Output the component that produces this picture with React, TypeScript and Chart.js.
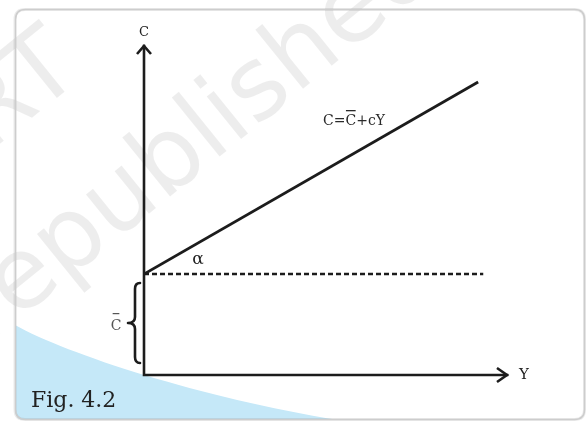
import React, { useEffect, useRef } from "react";
import { Chart, registerables } from "chart.js";

Chart.register(...registerables);

// ---- data (in chart units) ----
const consumptionIncome = [0, 9.18];
const consumptionValues = [3.06, 8.88];
const autonomousIncome = [0, 9.32];
const autonomousValues = [3.06, 3.06];
const axisMin = 0;
const axisMax = 10;

// ---- text ----
const yAxisLabel = "C";
const xAxisLabel = "Y";
const equationParts = ["C=", "C", "+cY"];
const angleLabel = "α";
const interceptLabel = "C";
const figureLabel = "Fig. 4.2";
const watermarkLines = ["© NCERT", "not to be republished"];

const W = 587;
const H = 421;
const SERIF = "'DejaVu Serif', serif";

function roundRectPath(ctx: CanvasRenderingContext2D, x: number, y: number, w: number, h: number, r: number) {
  ctx.beginPath();
  ctx.moveTo(x + r, y);
  ctx.lineTo(x + w - r, y);
  ctx.quadraticCurveTo(x + w, y, x + w, y + r);
  ctx.lineTo(x + w, y + h - r);
  ctx.quadraticCurveTo(x + w, y + h, x + w - r, y + h);
  ctx.lineTo(x + r, y + h);
  ctx.quadraticCurveTo(x, y + h, x, y + h - r);
  ctx.lineTo(x, y + r);
  ctx.quadraticCurveTo(x, y, x + r, y);
  ctx.closePath();
}

const backgroundPlugin = {
  id: "figBackground",
  beforeDraw(chart: any) {
    const ctx: CanvasRenderingContext2D = chart.ctx;
    ctx.save();
    ctx.fillStyle = "#ffffff";
    ctx.fillRect(0, 0, W, H);

    // blue swoosh inside frame
    ctx.save();
    roundRectPath(ctx, 15, 9, 570, 411, 10);
    ctx.clip();
    ctx.beginPath();
    ctx.moveTo(10, 322);
    ctx.bezierCurveTo(60, 352, 200, 398, 345, 421);
    ctx.lineTo(10, 421);
    ctx.closePath();
    ctx.fillStyle = "#c5e8f8";
    ctx.fill();
    ctx.restore();

    // watermark
    ctx.save();
    ctx.translate(20, 282);
    ctx.rotate((-39 * Math.PI) / 180);
    ctx.fillStyle = "rgba(0,0,0,0.07)";
    ctx.font = "100px 'DejaVu Sans', sans-serif";
    ctx.textBaseline = "alphabetic";
    ctx.textAlign = "left";
    const pre = ctx.measureText("not to be r").width;
    ctx.fillText(watermarkLines[1], -pre - 25, 28);
    ctx.textAlign = "right";
    ctx.fillText(watermarkLines[0], 180, -120);
    ctx.restore();

    // frame
    ctx.save();
    roundRectPath(ctx, 15, 9.5, 569.5, 410, 10);
    ctx.lineWidth = 3;
    ctx.strokeStyle = "rgba(0,0,0,0.08)";
    ctx.stroke();
    roundRectPath(ctx, 15.5, 9.5, 569, 410, 10);
    ctx.lineWidth = 1.5;
    ctx.strokeStyle = "#cdcdcd";
    ctx.stroke();
    ctx.restore();

    ctx.restore();
  },
};

const annotationPlugin = {
  id: "figAnnotations",
  afterDatasetsDraw(chart: any) {
    const ctx: CanvasRenderingContext2D = chart.ctx;
    const xs = chart.scales.x;
    const ys = chart.scales.y;
    const x0 = xs.getPixelForValue(axisMin);
    const y0 = ys.getPixelForValue(axisMin);
    const xEnd = xs.getPixelForValue(axisMax);
    const yEnd = ys.getPixelForValue(axisMax);
    const yC = ys.getPixelForValue(consumptionValues[0]);

    ctx.save();
    ctx.strokeStyle = "#1c1c1c";
    ctx.lineWidth = 2.6;
    ctx.lineCap = "square";
    ctx.lineJoin = "miter";
    // axes
    ctx.beginPath();
    ctx.moveTo(x0, yEnd + 1);
    ctx.lineTo(x0, y0);
    ctx.lineTo(xEnd - 1, y0);
    ctx.stroke();
    // arrowheads
    ctx.lineCap = "butt";
    ctx.beginPath();
    ctx.moveTo(x0 - 7, yEnd + 9);
    ctx.lineTo(x0, yEnd + 1);
    ctx.lineTo(x0 + 7, yEnd + 9);
    ctx.stroke();
    ctx.beginPath();
    ctx.moveTo(xEnd - 11, y0 - 7);
    ctx.lineTo(xEnd - 1, y0);
    ctx.lineTo(xEnd - 11, y0 + 7);
    ctx.stroke();

    // brace
    const bx = x0 - 9;
    const tip = x0 - 16;
    const top = yC + 9;
    const bot = y0 - 12;
    const mid = (top + bot) / 2;
    ctx.lineWidth = 2.6;
    ctx.lineCap = "round";
    ctx.lineJoin = "round";
    ctx.beginPath();
    ctx.moveTo(bx + 5, top);
    ctx.quadraticCurveTo(bx, top, bx, top + 6);
    ctx.lineTo(bx, mid - 6);
    ctx.quadraticCurveTo(bx, mid, tip, mid);
    ctx.quadraticCurveTo(bx, mid, bx, mid + 6);
    ctx.lineTo(bx, bot - 6);
    ctx.quadraticCurveTo(bx, bot, bx + 5, bot);
    ctx.stroke();

    // labels
    ctx.fillStyle = "#222";
    ctx.textAlign = "center";
    ctx.textBaseline = "middle";
    ctx.font = `13px ${SERIF}`;
    ctx.fillText(yAxisLabel, x0, yEnd - 12);
    ctx.font = `15px ${SERIF}`;
    ctx.fillText(xAxisLabel, xEnd + 16, y0);

    // equation
    ctx.font = `14px ${SERIF}`;
    ctx.textAlign = "left";
    ctx.textBaseline = "alphabetic";
    let ex = 323;
    const ey = 125;
    ctx.fillStyle = "#2a2a2a";
    ctx.fillText(equationParts[0], ex, ey);
    ex += ctx.measureText(equationParts[0]).width;
    const cw = ctx.measureText(equationParts[1]).width;
    ctx.fillText(equationParts[1], ex, ey);
    ctx.fillRect(ex + 0.5, ey - 15, cw - 1, 1.3);
    ex += cw;
    ctx.fillText(equationParts[2], ex, ey);

    // alpha
    ctx.font = `17px ${SERIF}`;
    ctx.textAlign = "center";
    ctx.textBaseline = "middle";
    ctx.fillStyle = "#222";
    ctx.fillText(angleLabel, 198, yC - 14);

    // intercept label
    ctx.font = `14px ${SERIF}`;
    ctx.fillStyle = "#555";
    ctx.fillText(interceptLabel, 116, mid + 3);
    const iw = ctx.measureText(interceptLabel).width;
    ctx.fillRect(116 - iw / 2 + 2, mid - 10, iw - 4, 1.2);

    // figure label
    ctx.font = `22px ${SERIF}`;
    ctx.textAlign = "left";
    ctx.textBaseline = "alphabetic";
    ctx.fillStyle = "#222";
    ctx.fillText(figureLabel, 31, 407);

    ctx.restore();
  },
};

export default function App() {
  const ref = useRef<HTMLCanvasElement | null>(null);

  useEffect(() => {
    if (!ref.current) return;
    const chart = new Chart(ref.current, {
      type: "scatter",
      data: {
        datasets: [
          {
            label: "consumption",
            data: consumptionIncome.map((x, i) => ({ x, y: consumptionValues[i] })),
            showLine: true,
            borderColor: "#1c1c1c",
            borderWidth: 2.8,
            pointRadius: 0,
            fill: false,
          },
          {
            label: "autonomous",
            data: autonomousIncome.map((x, i) => ({ x, y: autonomousValues[i] })),
            showLine: true,
            borderColor: "#1c1c1c",
            borderWidth: 2.5,
            borderDash: [5, 3],
            pointRadius: 0,
            fill: false,
          },
        ],
      },
      options: {
        animation: false,
        responsive: false,
        devicePixelRatio: 1,
        layout: { padding: { left: 144, right: 79, top: 45, bottom: 46 } },
        scales: {
          x: { type: "linear", min: axisMin, max: axisMax, display: false },
          y: { type: "linear", min: axisMin, max: axisMax, display: false },
        },
        plugins: {
          legend: { display: false },
          tooltip: { enabled: false },
          title: { display: false },
        },
      },
      plugins: [backgroundPlugin, annotationPlugin],
    });
    return () => chart.destroy();
  }, []);

  return (
    <div style={{ position: "fixed", left: 0, top: 0, width: W, height: H }}>
      <canvas ref={ref} width={W} height={H} style={{ display: "block", width: W, height: H }} />
    </div>
  );
}
